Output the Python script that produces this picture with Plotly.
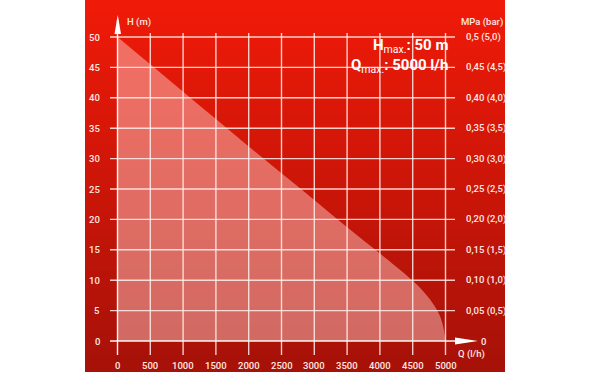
import plotly.graph_objects as go

# ---- data ----
flow_q = [0, 500, 1000, 1500, 2000, 2500, 3000, 3500, 4000, 4250, 4500, 4650, 4800, 4900, 4960, 5000]
head_h = [50, 45.5, 41.0, 36.5, 32.0, 27.6, 23.2, 18.7, 14.4, 12.2, 9.9, 8.3, 6.3, 4.5, 2.6, 0]

x_ticks = [0, 500, 1000, 1500, 2000, 2500, 3000, 3500, 4000, 4500, 5000]
y_ticks = [0, 5, 10, 15, 20, 25, 30, 35, 40, 45, 50]
right_labels = ["0", "0,05 (0,5)", "0,10 (1,0)", "0,15 (1,5)", "0,20 (2,0)", "0,25 (2,5)",
                "0,30 (3,0)", "0,35 (3,5)", "0,40 (4,0)", "0,45 (4,5)", "0,5 (5,0)"]

W, H = 590, 372
qpx = 328 / 5000
hpx = 304 / 50
X0 = 117.5
Y0 = 341
x_range = [-X0 / qpx, (W - X0) / qpx]
y_range = [(Y0 - H) / hpx, Y0 / hpx]

def qx(px):
    return (px - X0) / qpx

def hy(py):
    return (Y0 - py) / hpx

FONT = "Roboto, 'DejaVu Sans Condensed', sans-serif"
TXT = "rgba(255,232,226,1)"

fig = go.Figure()

shapes = []
n = 62
top = (240, 26, 8)
bot = (166, 17, 8)
for i in range(n):
    t = i / (n - 1)
    c = tuple(int(round(top[k] + (bot[k] - top[k]) * t)) for k in range(3))
    shapes.append(dict(type="rect", xref="paper", yref="paper",
                       x0=85 / W, x1=505 / W,
                       y0=max(0, 1 - (i + 1) / n - 0.002), y1=1 - i / n,
                       fillcolor="rgb(%d,%d,%d)" % c, line=dict(width=0), layer="below"))

fig.add_trace(go.Scatter(x=flow_q, y=head_h, mode="lines",
                         line=dict(width=0, shape="spline", smoothing=1.0),
                         fill="tozeroy", fillcolor="rgba(255,215,210,0.45)", hoverinfo="skip",
                         showlegend=False))

grid_col = "rgba(255,240,236,0.85)"
for v in y_ticks:
    shapes.append(dict(type="line", xref="x", yref="y", x0=qx(110), x1=qx(455), y0=v, y1=v,
                       line=dict(color=grid_col if v else "rgba(255,255,255,0.95)", width=1.4),
                       layer="above"))
for q in x_ticks:
    shapes.append(dict(type="line", xref="x", yref="y", x0=q, x1=q, y0=hy(355),
                       y1=hy(33) if q else hy(20),
                       line=dict(color=grid_col if q else "rgba(255,255,255,0.95)", width=1.4),
                       layer="above"))

shapes.append(dict(type="path", xref="x", yref="y",
                   path="M %f,%f L %f,%f L %f,%f Z" % (qx(114.5), hy(34), qx(121), hy(34), qx(117.8), hy(15)),
                   fillcolor="white", line=dict(width=0), layer="above"))
shapes.append(dict(type="path", xref="x", yref="y",
                   path="M %f,%f L %f,%f L %f,%f Z" % (qx(455), hy(337.5), qx(455), hy(344.5), qx(478), hy(341)),
                   fillcolor="white", line=dict(width=0), layer="above"))

TF = dict(family=FONT, size=9.5, color=TXT, weight=500)
ann = []
for v in y_ticks:
    ann.append(dict(x=qx(102), y=v, xref="x", yref="y", text=str(v), showarrow=False,
                    xanchor="right", yanchor="middle", font=TF))
for q in x_ticks:
    ann.append(dict(x=q, y=hy(365), xref="x", yref="y", text=str(q), showarrow=False,
                    xanchor="center", yanchor="middle", font=TF))
for v, lab in zip(y_ticks, right_labels):
    ann.append(dict(x=qx(479 if v == 0 else 464), y=v, xref="x", yref="y", text=lab, showarrow=False,
                    xanchor="left", yanchor="middle", font=TF))

ann += [
    dict(x=qx(125), y=hy(22), xref="x", yref="y", text="H (m)", showarrow=False, xanchor="left",
         yanchor="middle", font=TF),
    dict(x=qx(459), y=hy(22), xref="x", yref="y", text="MPa (bar)", showarrow=False, xanchor="left",
         yanchor="middle", font=TF),
    dict(x=qx(456), y=hy(354), xref="x", yref="y", text="Q (l/h)", showarrow=False, xanchor="left",
         yanchor="middle", font=TF),
    dict(x=qx(450), y=hy(46), xref="x", yref="y",
         text="<b>H</b><sub>max.</sub><b>: 50 m</b>", showarrow=False,
         xanchor="right", yanchor="middle", font=dict(family=FONT, size=15, color="white")),
    dict(x=qx(450), y=hy(66), xref="x", yref="y",
         text="<b>Q</b><sub>max.</sub><b>: 5000 l/h</b>", showarrow=False,
         xanchor="right", yanchor="middle", font=dict(family=FONT, size=15, color="white")),
]

fig.update_layout(
    width=W, height=H, margin=dict(l=0, r=0, t=0, b=0),
    paper_bgcolor="white", plot_bgcolor="rgba(0,0,0,0)",
    xaxis=dict(range=x_range, visible=False, fixedrange=True),
    yaxis=dict(range=y_range, visible=False, fixedrange=True),
    shapes=shapes, annotations=ann, showlegend=False,
)

fig.write_html("out.html", config={"displayModeBar": False, "staticPlot": True},
               post_script="document.body.style.margin='0';document.body.style.overflow='hidden';")
